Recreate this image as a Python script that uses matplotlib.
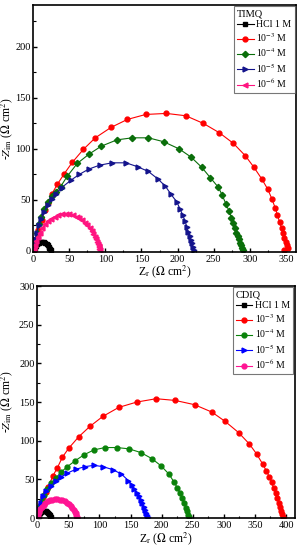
import matplotlib
matplotlib.use("Agg")
import matplotlib.pyplot as plt
from matplotlib.ticker import MultipleLocator

plt.rcParams['font.family'] = ['Liberation Serif', 'DejaVu Serif']
plt.rcParams['mathtext.fontset'] = 'stix'

conc_labels = ['HCl 1 M', '10$^{-3}$ M', '10$^{-4}$ M', '10$^{-5}$ M', '10$^{-6}$ M']

# ---- TIMQ (top panel) ----
timq_blank_x = [1.5, 2.5, 3.5, 5, 6.5, 8.5, 10.5, 12.5, 14.5, 16.5, 18.5, 20, 21.5, 22.5, 23.5, 24]
timq_blank_y = [1, 3, 5, 6.5, 7.5, 8.2, 8.6, 8.7, 8.4, 7.8, 6.8, 5.6, 4.2, 2.8, 1.5, 0.6]
timq_3_x = [0.5, 2.4, 7, 11.6, 16.2, 20.8, 25.5, 33.3, 42.6, 54.1, 69.4, 86, 107.8, 130.4, 155.9, 184.5,
            211.4, 235.8, 258, 277.4, 294, 305.7, 316.8, 325.1, 330.6, 335.2, 338.4, 341.2, 344, 346.3,
            348.1, 350, 351.4, 352.8, 347]
timq_3_y = [2, 10.5, 20.3, 30, 39.9, 46.5, 55.3, 65.1, 75.2, 86.7, 99.4, 110.8, 121, 128.8, 133.7, 134.7,
            132.4, 124.9, 115.7, 105.3, 93.1, 82, 70.3, 60.2, 51, 42.2, 35, 28.4, 22.5, 17.6,
            12.7, 8.8, 5.3, 2.4, 0.8]
timq_4_x = [1, 3, 5, 8, 11, 15, 20, 26, 31, 38, 47, 61, 77.3, 94.3, 116, 137.3, 159.5, 180.5, 202, 218.7,
            233.6, 245.5, 256.6, 262, 267.3, 271.4, 274.6, 277, 279.7, 281.6, 283.5, 284.9, 286.7, 288.1,
            289.5, 290.4]
timq_4_y = [4, 11, 18, 26, 33, 41, 48, 54, 58, 63, 73, 85.7, 94.8, 102.6, 108.8, 110.8, 110.8, 107, 100, 91.9,
            81.8, 71.6, 62.2, 54.3, 45.5, 38.9, 32.7, 26.9, 22, 17.6, 14.4, 11.2, 7.8, 5.3,
            3, 1.2]
timq_5_x = [0.5, 1.5, 3, 5, 8, 11, 15, 20, 25.5, 31, 39.4, 52.3, 64, 76.8, 92, 109.2, 128.6, 144.8, 159.5,
            172.5, 183.1, 191, 198.9, 203.5, 207.2, 210.4, 212.8, 215, 217.3, 218.7, 220.1, 221.5, 222.5]
timq_5_y = [2, 6, 12, 18, 25, 31, 38, 45, 51, 56, 62, 69.3, 75, 80.1, 84, 86.3, 86.3, 82.4, 77.8,
            70.6, 63.4, 55.3, 48, 40.9, 35, 29.4, 23.5, 18.6, 14.4, 10.5, 7.3, 3.9, 1.2]
timq_6_x = [1, 2, 4, 6, 9, 12, 16, 20, 25, 30, 35, 40, 45, 50, 55, 60, 64, 68, 72, 75, 78, 81, 83, 85, 87,
            88.5, 89.5, 90.5, 91.2, 91.8, 92.2]
timq_6_y = [2, 6, 10, 14, 18, 22, 26, 29, 31.5, 33.5, 35, 35.8, 36, 35.8, 35, 33.5, 32, 30, 27.5, 25, 22, 19,
            16.5, 14, 11.5, 9, 7, 5, 3.5, 2, 0.8]

# ---- CDIQ (bottom panel) ----
cdiq_blank_x = [1.5, 2.5, 3.5, 5, 6.5, 8, 10, 12, 14, 16, 17.5, 19, 20, 21, 21.5]
cdiq_blank_y = [1, 3, 5, 6.8, 8, 8.8, 9.2, 9.3, 9, 8.2, 7, 5.5, 4, 2.3, 0.8]
cdiq_3_x = [1.1, 5.5, 9.7, 13.5, 17.2, 25.3, 32.2, 40.3, 50.5, 66.6, 84.4, 105.3, 131, 160, 191.1, 221.7,
            252.8, 280.8, 302.2, 323.6, 340.8, 352.6, 362.3, 368.2, 373, 376.8, 380, 383.2, 385.9, 388.7,
            390.8, 392.4, 394, 395.6]
cdiq_3_y = [9.5, 18.1, 26.7, 33.2, 39.7, 54.9, 64.9, 78.6, 90.3, 105.1, 118.4, 131.4, 143.1, 150, 154.3, 152.1,
            146.6, 137, 124.9, 110.6, 96, 83, 70, 61.3, 53.6, 46.2, 38.9, 31.9, 25.9, 19.8,
            14.7, 9.5, 5.2, 0.8]
cdiq_4_x = [0.5, 2, 4, 7, 11, 16, 22, 29.6, 37.7, 48.3, 61.2, 75.7, 91.3, 109, 127.8, 147.6, 166.5, 184.2,
            199.2, 212, 220.1, 225.4, 229.8, 233, 236.2, 238.9, 241, 242.6, 244.2]
cdiq_4_y = [2, 8, 15, 22, 30, 38, 45, 51.4, 59.1, 66.5, 74.3, 82.1, 88.2, 91.2, 91.2, 89.5, 84.7, 76.9,
            67.4, 56.6, 46.2, 38.9, 31.9, 25.9, 19.8, 13.7, 8.6, 4.3, 0.8]
cdiq_5_x = [0.5, 1.5, 3, 5.5, 9, 14, 21.6, 30, 38, 47.3, 61.8, 76.3, 91.3, 105.8, 121.4, 135.2, 146.5, 151.5,
            156.2, 160, 163.7, 166.5, 169.1, 171, 172.9, 174.5, 176, 177.7]
cdiq_5_y = [2, 6, 12, 20, 28, 35, 41, 48, 53, 57.8, 63, 66.5, 68.2, 66.5, 62.6, 57, 48.4, 43,
            38, 33, 28.5, 23.5, 18.9, 14.5, 10.4, 7, 4, 1]
cdiq_6_x = [0.5, 1.5, 3, 5, 7.5, 10, 13, 16.5, 20, 24, 28, 32, 36, 40, 44, 48, 51, 54, 56.5, 58.5, 60.5,
            62, 63, 63.8, 64.3]
cdiq_6_y = [2, 5, 8.5, 11.5, 14.5, 17, 19.5, 21.5, 22.8, 23.7, 24.1, 24.2, 24, 23.3, 22, 20, 18, 15.8, 13.5,
            11, 8.5, 6, 4, 2, 0.6]


def style_axes(ax, xmax, ymin, ymax, title, ylab_x):
    ax.set_xlim(0, xmax)
    ax.set_ylim(ymin, ymax)
    ax.xaxis.set_major_locator(MultipleLocator(50))
    ax.xaxis.set_minor_locator(MultipleLocator(25))
    ax.yaxis.set_major_locator(MultipleLocator(50))
    ax.yaxis.set_minor_locator(MultipleLocator(25))
    ax.tick_params(which='major', direction='in', length=3, width=1, labelsize=7.5, pad=2)
    ax.tick_params(which='minor', direction='in', length=1.8, width=0.8)
    for s in ax.spines.values():
        s.set_linewidth(1.2)
    ax.set_xlabel('Z$_{\\rm r}$ ($\\Omega$ cm$^2$)', fontsize=8.5, labelpad=0)
    ax.set_ylabel('-$Z_{\\rm im}$ ($\\Omega$ cm$^2$)', fontsize=8.5)
    ax.yaxis.set_label_coords(ylab_x, 0.5)
    leg = ax.legend(loc='upper right', fontsize=7, title=title, title_fontsize=7.5,
                    frameon=True, fancybox=False, edgecolor='#555555', borderpad=0.3,
                    labelspacing=0.2, handlelength=1.7, handletextpad=0.3, borderaxespad=0.15)
    leg._legend_box.align = 'left'
    leg.get_frame().set_linewidth(0.8)
    for ln in leg.get_lines():
        ln.set_linewidth(0.8)


fig = plt.figure(figsize=(3.02, 5.5), dpi=100)

ax1 = fig.add_axes([0.110, 0.542, 0.870, 0.449])
ax1.plot(timq_blank_x, timq_blank_y, '-s', color='black', ms=3.5, lw=2.2, label=conc_labels[0])
ax1.plot(timq_3_x, timq_3_y, '-o', color='#ff0000', ms=3.5, lw=0.8, label=conc_labels[1])
ax1.plot(timq_4_x, timq_4_y, '-D', color='#0a6e0a', ms=3.2, lw=0.8, label=conc_labels[2])
ax1.plot(timq_5_x, timq_5_y, '->', color='#14148c', ms=3.5, lw=0.8, label=conc_labels[3])
ax1.plot(timq_6_x, timq_6_y, '-<', color='#ff1480', ms=3.5, lw=0.8, label=conc_labels[4])
style_axes(ax1, 364, -1, 241, 'TIMQ', -0.068)

ax2 = fig.add_axes([0.1235, 0.058, 0.8525, 0.422])
ax2.plot(cdiq_blank_x, cdiq_blank_y, '-s', color='black', ms=3.5, lw=2.2, label=conc_labels[0])
ax2.plot(cdiq_3_x, cdiq_3_y, '-o', color='#ff0000', ms=3.5, lw=0.8, label=conc_labels[1])
ax2.plot(cdiq_4_x, cdiq_4_y, '-o', color='#0a820a', ms=3.5, lw=0.8, label=conc_labels[2])
ax2.plot(cdiq_5_x, cdiq_5_y, '->', color='#0000ff', ms=3.5, lw=0.8, label=conc_labels[3])
ax2.plot(cdiq_6_x, cdiq_6_y, '-o', color='#ff1493', ms=3.5, lw=0.8, label=conc_labels[4])
style_axes(ax2, 414, 0, 300, 'CDIQ', -0.085)

fig.savefig('out.png', dpi=100)
